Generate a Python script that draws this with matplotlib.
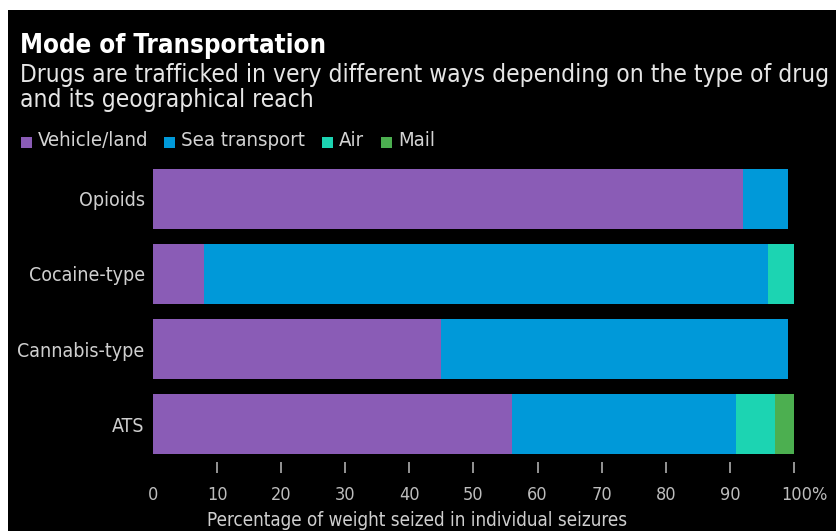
import matplotlib
matplotlib.use("Agg")
import matplotlib.pyplot as plt
from matplotlib.patches import Rectangle
import matplotlib.transforms as mtransforms
import numpy as np

categories = ["Opioids", "Cocaine-type", "Cannabis-type", "ATS"]
modes = ["Vehicle/land", "Sea transport", "Air", "Mail"]
vehicle_land = [92, 8, 45, 56]
sea_transport = [7, 88, 54, 35]
air = [0, 4, 0, 6]
mail = [0, 0, 0, 3]
tick_values = [0, 10, 20, 30, 40, 50, 60, 70, 80, 90, 100]
tick_labels = ["0", "10", "20", "30", "40", "50", "60", "70", "80", "90", "100%"]

colors = ["#8a5cb6", "#0099d9", "#1cd4b2", "#4caf50"]
FONT = "DejaVu Sans"
STRETCH = "condensed"

W, H = 837, 531
fig = plt.figure(figsize=(W / 100, H / 100), dpi=100)
fig.patch.set_facecolor("white")
# black panel with thin white margin on top and left
fig.add_artist(Rectangle((8 / W, 0), 1 - 8 / W, 1 - 10 / H, transform=fig.transFigure,
                         facecolor="black", edgecolor="none", zorder=0))

renderer = fig.canvas.get_renderer()


def fit_text(x, y, s, width_px, ha="left", **kw):
    t = fig.text(x / W, 1 - y / H, s, family=FONT, stretch=STRETCH, va="center", ha=ha, **kw)
    size = t.get_fontsize()
    for _ in range(4):
        w = t.get_window_extent(renderer).width
        size *= width_px / w
        t.set_fontsize(size)
    return t


fit_text(20, 46, "Mode of Transportation", 305, color="white", fontweight="bold", fontsize=16)
sub1 = fit_text(20, 75, "Drugs are trafficked in very different ways depending on the type of drug",
                810, color="#e6e6e6", fontsize=15)
fig.text(20 / W, 1 - 100 / H, "and its geographical reach", family=FONT, stretch=STRETCH,
         va="center", color="#e6e6e6", fontsize=sub1.get_fontsize())

# legend row
leg_sq = [21, 164, 322, 381]
leg_tx = [38, 181, 339, 398]
for sx, tx, name, c in zip(leg_sq, leg_tx, modes, colors):
    fig.add_artist(Rectangle((sx / W, 1 - 147.5 / H), 11 / W, 11 / H, transform=fig.transFigure,
                             facecolor=c, edgecolor="none"))
    fig.text(tx / W, 1 - 141 / H, name, family=FONT, stretch=STRETCH, va="center",
             color="#d4d4d4", fontsize=14.6)

ax = fig.add_axes([153 / W, 1 - 462 / H, (794 - 153) / W, (462 - 161) / H])
ax.set_facecolor("black")

y = np.arange(len(categories))
left = np.zeros(len(categories))
for vals, c in zip([vehicle_land, sea_transport, air, mail], colors):
    vals = np.array(vals, dtype=float)
    ax.barh(y, vals, left=left, height=0.8, color=c, edgecolor="none")
    left += vals

ax.set_xlim(0, 100)
ax.set_ylim(3.5, -0.5)
ax.set_yticks(y)
ax.set_yticklabels(categories, family=FONT, stretch=STRETCH, fontsize=14, color="#cfcfcf")
ax.tick_params(axis="y", length=0, pad=6)
ax.set_xticks(tick_values)
ax.set_xticklabels(tick_labels, family=FONT, stretch=STRETCH, fontsize=13, color="#bdbdbd")
ax.tick_params(axis="x", length=8, width=1.1, color="#bdbdbd", direction="out", pad=9)
ax.xaxis.get_major_ticks()[0].tick1line.set_visible(False)
# keep the number of the last label centred on its tick, with the % sign trailing
last = ax.get_xticklabels()[-1]
last.set_transform(last.get_transform() + mtransforms.ScaledTranslation(0.10, 0, fig.dpi_scale_trans))
for sp in ax.spines.values():
    sp.set_visible(False)
fit_text(417, 521, "Percentage of weight seized in individual seizures", 421, ha="center",
         color="#cfcfcf", fontsize=13)

fig.savefig("out.png", dpi=100, facecolor=fig.get_facecolor())
